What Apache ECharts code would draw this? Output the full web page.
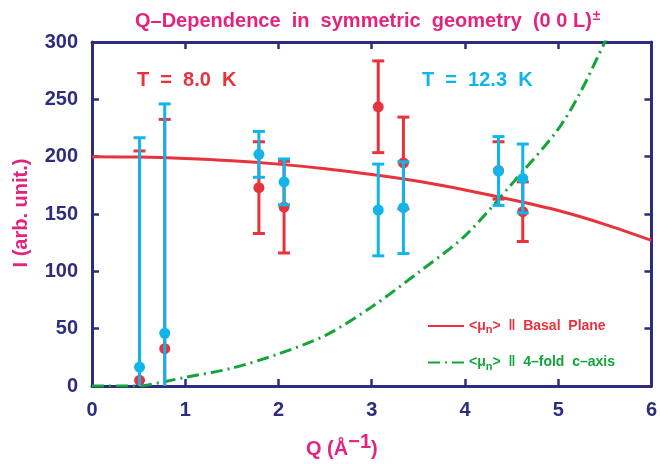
<!DOCTYPE html>
<html><head><meta charset="utf-8">
<script src="https://cdn.jsdelivr.net/npm/echarts@6/dist/echarts.min.js"></script>
<style>html,body{margin:0;padding:0;background:#fff}#c{width:660px;height:464px}</style>
</head><body><div id="c"></div>
<script>
// ---- data ----
const qRed   = [0.51, 0.78, 1.79, 2.06, 3.07, 3.34, 4.36, 4.62];
const iRed   = [5, 32.5, 173, 156, 243.5, 194.5, 188, 152];
const errRed = [200, 200, 40, 40, 40, 40, 25, 26];
const qCyan   = [0.51, 0.78, 1.79, 2.06, 3.07, 3.34, 4.36, 4.62];
const iCyan   = [16.5, 46, 202, 178, 153.5, 155.5, 187.5, 181];
const errCyan = [200, 200, 20, 20, 40, 40, 30, 30];
const basalQ = [0, 0.5, 1, 1.5, 2, 2.5, 3, 3.5, 4, 4.5, 5, 5.5, 6];
const basalI = [200, 199.7, 198.5, 196.5, 193.5, 189.5, 184.5, 178.5, 171, 162.5, 153, 141, 127];
const axialQ = [0, 0.5, 0.6, 1, 1.5, 2, 2.5, 3, 3.5, 4, 4.5, 5, 5.25, 5.5, 5.6];
const axialI = [0, 0, 1, 7.5, 15.5, 28, 44, 69, 99, 131, 176, 224, 258, 300, 316];
const xTicks = [0, 1, 2, 3, 4, 5, 6];
const yTicks = [0, 50, 100, 150, 200, 250, 300];

const NAVY = '#2f2c7e', MAG = '#e3247f', RED = '#e8323c', CYAN = '#12b5ea', GREEN = '#13a538';
const FONT = "'Liberation Sans', Arial, sans-serif";

function errData(q, v, e) { return q.map((x, i) => [x, v[i] - e[i], v[i] + e[i]]); }
function errRender(color) {
  return function (params, api) {
    const x = api.value(0), lo = api.value(1), hi = api.value(2);
    const pHi = api.coord([x, hi]);
    const pLo = api.coord([x, Math.max(lo, 0)]);
    const cap = 6;
    const st = { stroke: color, lineWidth: 3 };
    const ch = [
      { type: 'line', shape: { x1: pHi[0], y1: pHi[1], x2: pLo[0], y2: pLo[1] }, style: st },
      { type: 'line', shape: { x1: pHi[0] - cap, y1: pHi[1], x2: pHi[0] + cap, y2: pHi[1] }, style: st }
    ];
    if (lo >= 0) ch.push({ type: 'line', shape: { x1: pLo[0] - cap, y1: pLo[1], x2: pLo[0] + cap, y2: pLo[1] }, style: st });
    return { type: 'group', children: ch };
  };
}
function axisCommon(show) {
  return {
    axisLine: { show: true, onZero: false, lineStyle: { color: NAVY, width: 3 } },
    axisTick: { show: true, inside: true, length: 7, lineStyle: { color: NAVY, width: 2.5 } },
    axisLabel: { show: show, color: NAVY, fontSize: 20, fontWeight: 'bold', fontFamily: FONT, margin: 14 },
    splitLine: { show: false }
  };
}
const chart = echarts.init(document.getElementById('c'));
chart.setOption({
  animation: false,
  backgroundColor: '#fff',
  grid: { left: 92, right: 5, top: 42, bottom: 78 },
  title: {
    left: 130, top: 4,
    text: '{t|Q–Dependence  in  symmetric  geometry  (0 0 L)}{s|±}',
    textStyle: { rich: {
      t: { color: MAG, fontSize: 20, fontWeight: 'bold', fontFamily: FONT },
      s: { color: MAG, fontSize: 14, fontWeight: 'bold', fontFamily: FONT, verticalAlign: 'top', padding: [0, 0, 10, 1] }
    } }
  },
  xAxis: [
    Object.assign({ type: 'value', min: xTicks[0], max: xTicks[xTicks.length - 1], interval: 1, position: 'bottom' }, axisCommon(true)),
    Object.assign({ type: 'value', min: xTicks[0], max: xTicks[xTicks.length - 1], interval: 1, position: 'top' }, axisCommon(false))
  ],
  yAxis: [
    Object.assign({ type: 'value', min: yTicks[0], max: yTicks[yTicks.length - 1], interval: 50, position: 'left' }, axisCommon(true)),
    Object.assign({ type: 'value', min: yTicks[0], max: yTicks[yTicks.length - 1], interval: 50, position: 'right' }, axisCommon(false))
  ],
  legend: {
    orient: 'vertical', left: 422, top: 314, itemWidth: 36, itemHeight: 12, itemGap: 20,
    itemStyle: { opacity: 0 },
    data: [
      { name: 'basal', textStyle: { color: RED } },
      { name: 'axis', textStyle: { color: GREEN } }
    ],
    formatter: function (n) {
      return n === 'basal' ? '<μ{sub|n}>  ‖  Basal  Plane' : '<μ{sub|n}>  ‖  4–fold  c–axis';
    },
    textStyle: { fontSize: 14, fontWeight: 'bold', fontFamily: FONT,
      rich: { sub: { fontSize: 11, fontWeight: 'bold', fontFamily: FONT, padding: [8, 0, 0, 0] } } }
  },
  graphic: [
    { type: 'text', left: 137, top: 70, style: { text: 'T  =  8.0  K', fill: RED, font: "bold 20px 'Liberation Sans', Arial" } },
    { type: 'text', left: 422, top: 70, style: { text: 'T  =  12.3  K', fill: CYAN, font: "bold 20px 'Liberation Sans', Arial" } },
    { type: 'text', x: 306, y: 432, style: { text: 'Q (Å{sup|−1})', fill: MAG, font: "bold 20px 'Liberation Sans', Arial",
        rich: { sup: { fill: MAG, font: "bold 20px 'Liberation Sans', Arial", padding: [0, 0, 14, 0] } } } },
    { type: 'text', x: 21, y: 213, rotation: Math.PI / 2,
      style: { text: 'I (arb. unit.)', fill: MAG, font: "bold 20px 'Liberation Sans', Arial", align: 'center', verticalAlign: 'middle' } }
  ],
  series: [
    { name: 'basal', type: 'line', symbol: 'none', smooth: 0.3, z: 2, clip: true,
      lineStyle: { color: RED, width: 3 }, itemStyle: { color: RED },
      data: basalQ.map((q, i) => [q, basalI[i]]) },
    { name: 'axis', type: 'line', symbol: 'none', smooth: 0.3, z: 2, clip: true,
      lineStyle: { color: GREEN, width: 3, type: [12, 5, 2, 5] }, itemStyle: { color: GREEN },
      data: axialQ.map((q, i) => [q, axialI[i]]) },
    { name: 'redErr', type: 'custom', z: 3, clip: true, renderItem: errRender(RED), data: errData(qRed, iRed, errRed) },
    { name: 'redPts', type: 'scatter', z: 3, symbolSize: 11, itemStyle: { color: RED, opacity: 1 }, data: qRed.map((q, i) => [q, iRed[i]]) },
    { name: 'cyanErr', type: 'custom', z: 4, clip: true, renderItem: errRender(CYAN), data: errData(qCyan, iCyan, errCyan) },
    { name: 'cyanPts', type: 'scatter', z: 4, symbolSize: 11, itemStyle: { color: CYAN, opacity: 1 }, data: qCyan.map((q, i) => [q, iCyan[i]]) }
  ]
});
</script></body></html>
